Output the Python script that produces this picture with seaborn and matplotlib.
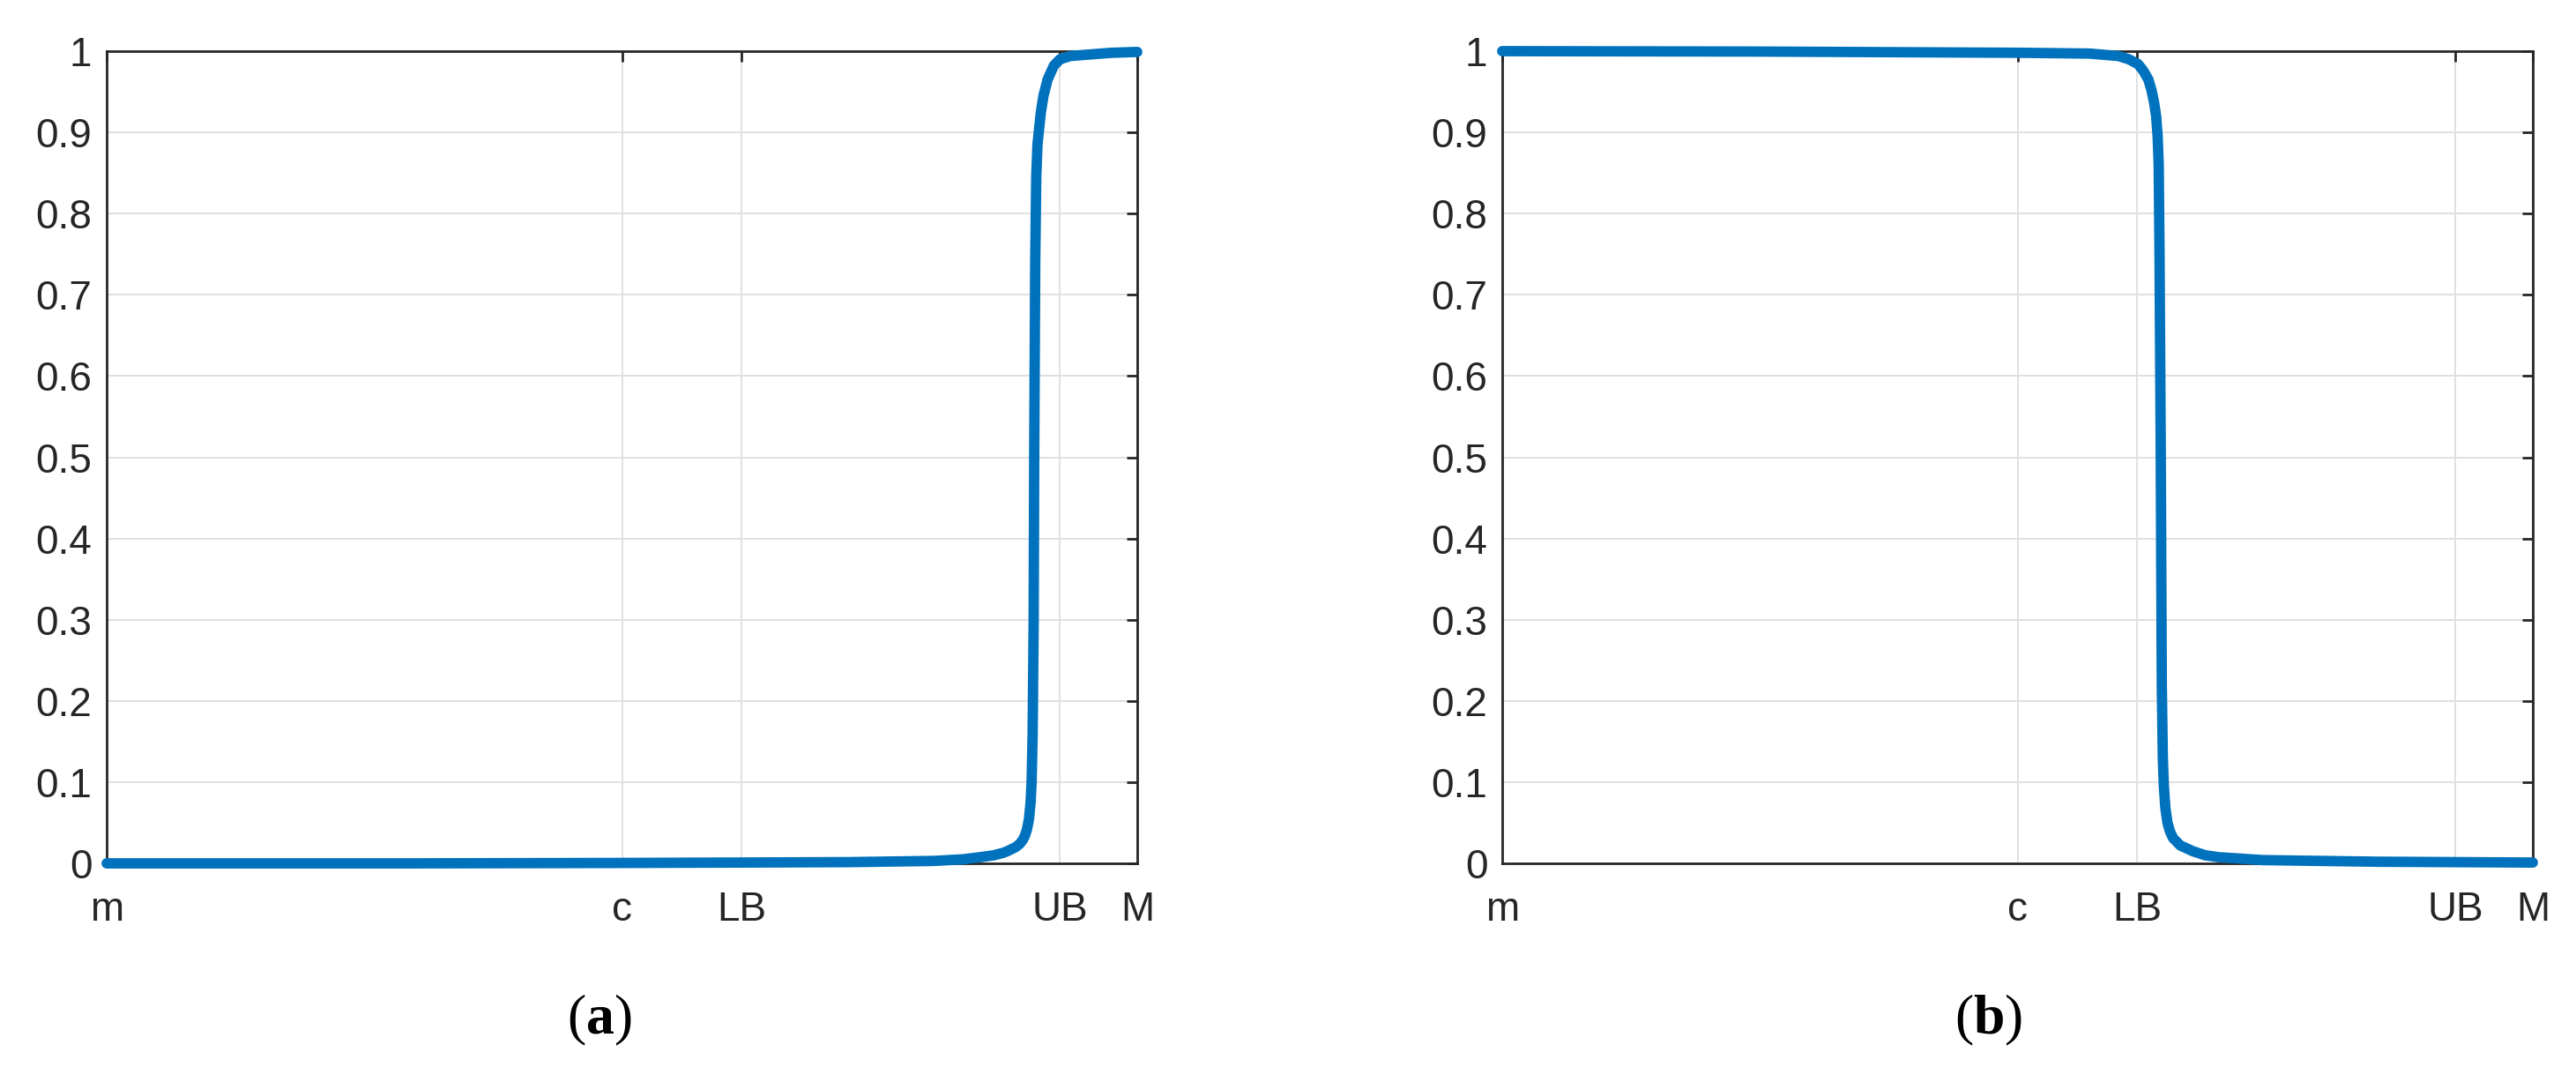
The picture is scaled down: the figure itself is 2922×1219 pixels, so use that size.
import numpy as np
import pandas as pd
import matplotlib
matplotlib.use("Agg")
import matplotlib.pyplot as plt
import seaborn as sns

# tick positions on the x axis (m .. M mapped onto 0..100)
tick_pos = [0, 50, 61.6, 92.5, 100]
tick_names = ["m", "c", "LB", "UB", "M"]
y_ticks = [0, 0.1, 0.2, 0.3, 0.4, 0.5, 0.6, 0.7, 0.8, 0.9, 1.0]
y_names = ["0", "0.1", "0.2", "0.3", "0.4", "0.5", "0.6", "0.7", "0.8", "0.9", "1"]

# (a) rising curve
x_a = [0, 30, 50, 61.5, 72, 80.3, 83.1, 85.0, 86.1, 87.0, 87.4, 88.2, 88.6,
       88.9, 89.1, 89.3, 89.5, 89.65, 89.75, 89.85, 89.95, 90.0, 90.1, 90.2,
       90.32, 90.48, 90.65, 90.9, 91.3, 91.9, 92.5, 93.5, 95.5, 97.5, 100]
y_a = [0, 0, 0.0005, 0.001, 0.0015, 0.003, 0.005, 0.008, 0.010, 0.013, 0.015,
       0.020, 0.024, 0.029, 0.034, 0.042, 0.055, 0.075, 0.10, 0.16, 0.30, 0.50,
       0.74, 0.846, 0.885, 0.905, 0.925, 0.945, 0.965, 0.982, 0.99, 0.994,
       0.996, 0.998, 0.999]

# (b) falling curve
x_b = [0, 25, 50.2, 57.0, 59.8, 60.8, 61.7, 62.2, 62.7, 63.0, 63.25, 63.45,
       63.6, 63.7, 63.78, 63.9, 64.0, 64.1, 64.2, 64.35, 64.55, 64.8, 65.1,
       65.8, 67.0, 68.2, 69.5, 73.8, 85, 100]
y_b = [1.0, 0.9995, 0.998, 0.997, 0.994, 0.99, 0.984, 0.976, 0.965, 0.952,
       0.937, 0.92, 0.895, 0.86, 0.75, 0.50, 0.22, 0.13, 0.095, 0.068, 0.05,
       0.039, 0.031, 0.022, 0.015, 0.010, 0.0076, 0.004, 0.002, 0.001]

captions = ["a", "b"]

sns.set_style("white")
plt.rcParams["font.family"] = ["Liberation Sans", "DejaVu Sans"]
plt.rcParams["mathtext.fontset"] = "custom"
plt.rcParams["mathtext.rm"] = "Liberation Serif"
plt.rcParams["mathtext.bf"] = "Liberation Serif:bold"

W, H = 2922, 1219
fig = plt.figure(figsize=(W / 100, H / 100), dpi=100)

blue = "#0072BD"
axis_col = "#262626"
grid_col = "#e0e0e0"

panels = [
    (121, 1290, pd.DataFrame({"x": x_a, "y": y_a}), 680),
    (1704, 2873, pd.DataFrame({"x": x_b, "y": y_b}), 2256),
]

for (x0, x1, df, cap_x), cap in zip(panels, captions):
    ax = fig.add_axes([x0 / W, (H - 979) / H, (x1 - x0) / W, (979 - 58) / H])
    sns.lineplot(data=df, x="x", y="y", ax=ax, color=blue, linewidth=8.5,
                 sort=False, estimator=None, clip_on=False, zorder=5,
                 solid_capstyle="round", solid_joinstyle="round")
    ax.set_xlim(0, 100)
    ax.set_ylim(0, 1)
    ax.set_xticks(tick_pos)
    ax.set_xticklabels(tick_names)
    ax.set_yticks(y_ticks)
    ax.set_yticklabels(y_names)
    ax.set_xlabel("")
    ax.set_ylabel("")
    ax.grid(True, color=grid_col, linewidth=1.4, zorder=0)
    ax.set_axisbelow(True)
    for s in ax.spines.values():
        s.set_visible(True)
        s.set_color(axis_col)
        s.set_linewidth(2.0)
    ax.tick_params(axis="both", direction="in", length=8.5, width=2.0,
                   color=axis_col, labelcolor=axis_col, labelsize=33,
                   top=True, right=True)
    ax.tick_params(axis="x", pad=22)
    ax.tick_params(axis="y", pad=12)

    fig.text(cap_x / W, 1 - 1157 / H, r"$\mathrm{(}\mathbf{" + cap + r"}\mathrm{)}$",
             ha="center", va="center", fontsize=46, color="black")

fig.savefig("out.png", dpi=100, facecolor="white")
